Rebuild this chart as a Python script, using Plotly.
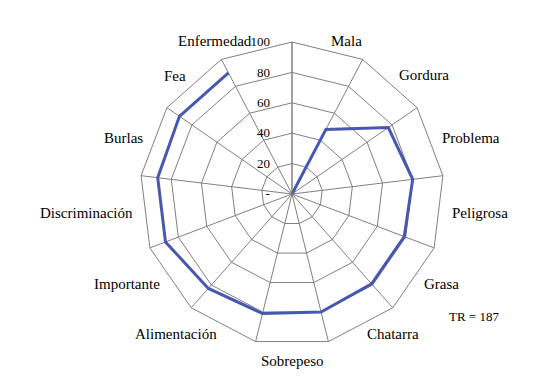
import plotly.graph_objects as go

# Categories in spoke order (clockwise from the top spoke)
categories = ["Mala", "Gordura", "Problema", "Peligrosa", "Grasa", "Chatarra",
              "Sobrepeso", "Alimentación", "Importante", "Discriminación",
              "Burlas", "Fea", "Enfermedad"]
values = [0, 48, 77, 80, 79, 79, 80, 81, 83, 89, 89, 90, 90]

radial_tickvals = [0, 20, 40, 60, 80, 100]
radial_ticktext = ["-", "20", "40", "60", "80", "100"]
note_text = "TR = 187"

# Label placement (pixel centres in the 550x382 picture) - layout only
W, H = 550, 382
label_pos = [(346.5, 41), (424, 75), (471, 138), (479.5, 213), (441.5, 284),
             (392.5, 334), (292, 361), (175.5, 334), (127, 284), (86, 213),
             (123, 138), (175, 76), (215, 41)]
note_pos = (473.5, 316)

cx, cy, R = 292, 194, 152

font_family = "Liberation Serif"
grid_col = "#808080"

fig = go.Figure()
fig.add_trace(go.Scatterpolar(
    r=values, theta=categories, mode="lines",
    line=dict(color="#4858b0", width=3),
    showlegend=False, hoverinfo="skip"))

fig.update_layout(
    width=W, height=H,
    margin=dict(l=0, r=0, t=0, b=0),
    paper_bgcolor="white",
    font=dict(family=font_family, color="black"),
    polar=dict(
        domain=dict(x=[(cx - R) / W, (cx + R) / W],
                    y=[(H - cy - R) / H, (H - cy + R) / H]),
        bgcolor="white",
        gridshape="linear",
        angularaxis=dict(direction="clockwise", rotation=90,
                         categoryorder="array", categoryarray=categories,
                         showticklabels=False, ticks="",
                         showgrid=True, gridcolor=grid_col, gridwidth=1,
                         showline=True, linecolor=grid_col, linewidth=1),
        radialaxis=dict(range=[0, 100], angle=90, tickangle=90,
                        tickvals=radial_tickvals, ticktext=radial_ticktext,
                        side="counterclockwise",
                        ticks="outside", ticklen=17, tickcolor="rgba(0,0,0,0)",
                        tickfont=dict(family=font_family, size=13, color="black"),
                        showgrid=True, gridcolor=grid_col, gridwidth=1,
                        showline=True, linecolor=grid_col, linewidth=1),
    ),
)

annotations = []
for name, (px, py) in zip(categories, label_pos):
    annotations.append(dict(text=name, x=px / W, y=1 - py / H,
                            xref="paper", yref="paper", showarrow=False,
                            xanchor="center", yanchor="middle",
                            font=dict(family=font_family, size=15, color="black")))
annotations.append(dict(text=note_text, x=note_pos[0] / W, y=1 - note_pos[1] / H,
                        xref="paper", yref="paper", showarrow=False,
                        xanchor="center", yanchor="middle",
                        font=dict(family=font_family, size=13, color="black")))
fig.update_layout(annotations=annotations)

fig.write_html("out.html", config={"displayModeBar": False},
               post_script="document.body.style.margin='0';")
